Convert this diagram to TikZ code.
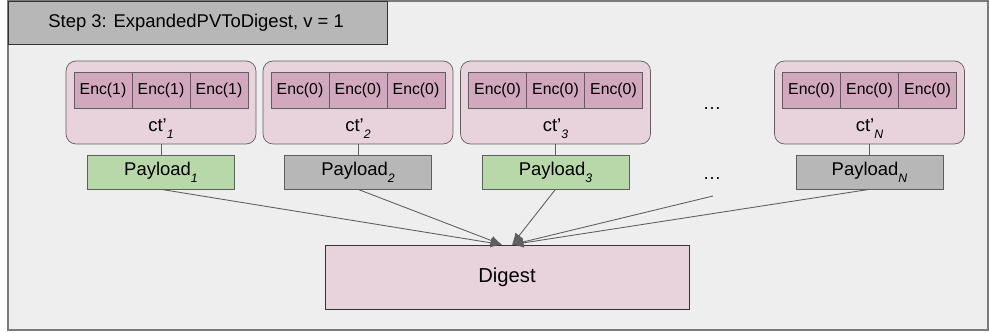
\documentclass[tikz,border=0pt]{standalone}
\usepackage{fontspec}
\setmainfont{Liberation Sans}
\usetikzlibrary{positioning, arrows.meta}

\definecolor{bgcol}{HTML}{EEEEEE}
\definecolor{framecol}{HTML}{7A7A7A}
\definecolor{titlecol}{HTML}{B7B7B7}
\definecolor{ctcol}{HTML}{E8D3DC}
\definecolor{enccol}{HTML}{D1A8BE}
\definecolor{greencol}{HTML}{B9D8AA}
\definecolor{graycol}{HTML}{B7B7B7}
\definecolor{linecol}{HTML}{5F5F5F}

\newcommand{\lowsub}[1]{\raisebox{-0.7ex}{\fontsize{7}{7}\selectfont\itshape #1}}
\newcommand{\ctprime}{ct\char"0027}

\tikzset{
	ctbox/.style = {draw = linecol, fill = ctcol, rounded corners = 0.2cm, minimum width = 3.8cm, minimum height = 1.66cm},
	enccell/.style = {draw = linecol, fill = enccol, minimum width = 1.16cm, minimum height = 0.72cm, inner sep = 0pt, font = \fontsize{9}{9}\selectfont},
	plbox/.style = {draw = linecol, minimum width = 2.94cm, minimum height = 0.68cm, inner sep = 0pt, font = \fontsize{10.5}{10.5}\selectfont},
	digbox/.style = {draw = black!80, fill = ctcol, minimum width = 7.28cm, minimum height = 1.28cm, font = \fontsize{11.5}{11.5}\selectfont},
	link/.style = {draw = linecol, line width = 0.5pt}
}

\begin{document}
\begin{tikzpicture}[> = {Latex[length = 6.5pt, width = 5.5pt]}, x = 0.02cm, y = -0.02cm]

	\useasboundingbox (0, 0) rectangle (989, 333);

	% Frame and title

	\filldraw [fill = bgcol, draw = framecol, line width = 1pt] (8, 1) rectangle (988, 330);
	\node [draw = black!80, fill = titlecol, minimum width = 7.58cm, minimum height = 0.86cm] (title) at (197.5, 22.5) {};
	\node [anchor = west, inner sep = 0pt, font = \fontsize{10.5}{10.5}\selectfont] (titletext) at (48, 22.5) {Step 3: ExpandedPVToDigest, v = 1};

	% Ciphertexts and payloads

	\foreach \i/\x/\v/\c in {1/161/1/greencol, 2/358/0/graycol, 3/555.5/0/greencol, N/869.5/0/graycol} {
		\node [ctbox] (ct\i) at (\x, 102.5) {};
		\foreach \k in {-1, 0, 1}
			\node [enccell] (enc\i\k) at ({\x + \k * 58}, 90) {Enc(\v)};
		\node [font = \fontsize{10.5}{10.5}\selectfont] (ctl\i) at (\x, 129) {\ctprime\lowsub{\i}};
		\node [plbox, fill = \c] (pl\i) at (\x, 172) {Payload\lowsub{\i}};
		\draw [link] (ct\i.south) -- (pl\i.north);
	}

	% Dots

	\node [anchor = base, font = \fontsize{10.5}{10.5}\selectfont] (dotsct) at (712, 110) {\dots};
	\node [anchor = base, font = \fontsize{10.5}{10.5}\selectfont] (dotspl) at (712, 180) {\dots};
	\coordinate (dotsend) at (713, 196);

	% Digest

	\node [digbox] (dig) at (507, 277) {Digest};

	\foreach \i in {1, 2}
		\draw [link, ->] (pl\i.south) -- ([xshift = -0.1cm] dig.north);
	\foreach \i in {3, N}
		\draw [link, ->] (pl\i.south) -- ([xshift = 0.1cm] dig.north);
	\draw [link, ->] (dotsend) -- ([xshift = 0.1cm] dig.north);

\end{tikzpicture}
\end{document}
